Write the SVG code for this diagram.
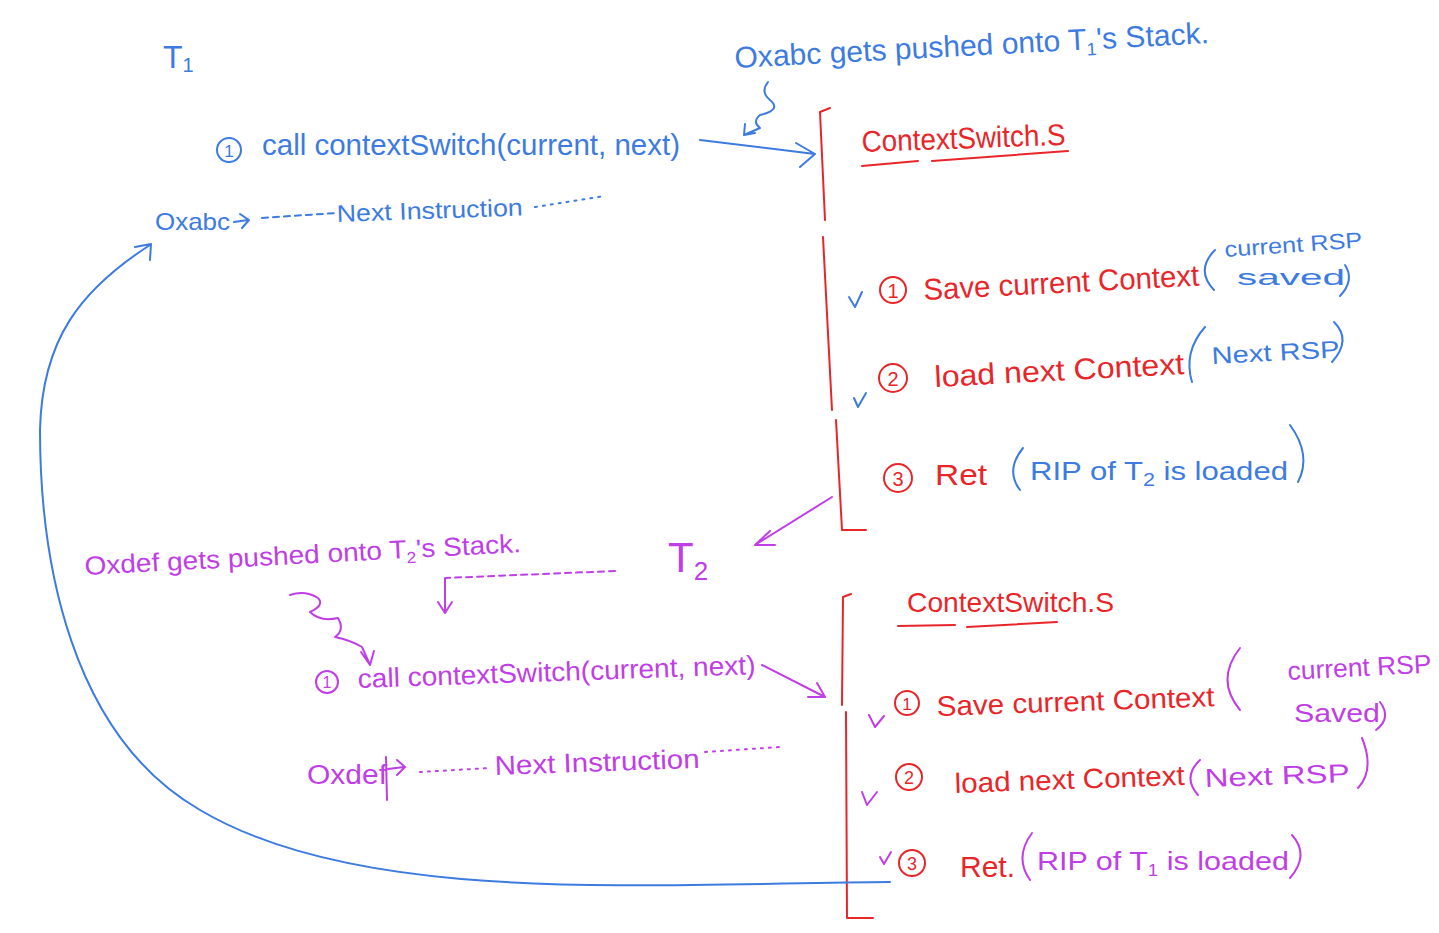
<svg xmlns="http://www.w3.org/2000/svg" width="1439" height="933" viewBox="0 0 1439 933">
<defs>
<style>
.b{fill:#3d7be0}.r{fill:#e8262a}.m{fill:#c03ee6}
text{font-family:"Liberation Sans","DejaVu Sans",sans-serif}
.sb{stroke:#3d7be0;fill:none;stroke-width:2;stroke-linecap:round;stroke-linejoin:round}
.sr{stroke:#e8262a;fill:none;stroke-width:2;stroke-linecap:round;stroke-linejoin:round}
.sm{stroke:#c03ee6;fill:none;stroke-width:2;stroke-linecap:round;stroke-linejoin:round}
.d{stroke-dasharray:6 5}
.dt{stroke-dasharray:2 6}
</style>
</defs>
<rect width="1439" height="933" fill="#ffffff"/>

<g id="t1-label">
<text x="163" y="68" class="b" font-size="32">T<tspan font-size="20" dy="4">1</tspan></text>
</g>

<g id="t1-call">
<circle cx="229" cy="150" r="12" class="sb"/>
<text x="229" y="157" class="b" font-size="17" text-anchor="middle">1</text>
<text x="262" y="155" class="b" font-size="30" textLength="418" lengthAdjust="spacingAndGlyphs">call contextSwitch(current, next)</text>
</g>

<g id="t1-next">
<text x="155" y="230" class="b" font-size="24" textLength="75" lengthAdjust="spacingAndGlyphs">Oxabc</text>
<text x="337" y="222" class="b" font-size="24" textLength="186" lengthAdjust="spacingAndGlyphs" transform="rotate(-2 337 222)">Next Instruction</text>
</g>

<g id="t1-note">
<text x="735" y="68" class="b" font-size="30" textLength="475" lengthAdjust="spacingAndGlyphs" transform="rotate(-3 735 68)">Oxabc gets pushed onto T<tspan font-size="18" dy="6">1</tspan><tspan dy="-6">'s Stack.</tspan></text>
</g>

<g id="cs1">
<text x="862" y="152" class="r" font-size="30" textLength="204" lengthAdjust="spacingAndGlyphs" transform="rotate(-2 862 152)">ContextSwitch.S</text>
<path class="sr" d="M862 166 L918 161 M932 161 L1068 151"/>
<path class="sr" d="M830 108 L820 112 L825 220 M823 237 L832 410 M836 420 L842 530 L866 530"/>
<path class="sb" d="M849 297 L855 307 L862 292"/>
<circle cx="893" cy="290" r="13" class="sr"/>
<text x="893" y="298" class="r" font-size="20" text-anchor="middle">1</text>
<text x="924" y="300" class="r" font-size="30" textLength="276" lengthAdjust="spacingAndGlyphs" transform="rotate(-3 924 300)">Save current Context</text>
<path class="sb" d="M1215 250 Q1195 270 1214 290"/>
<text x="1225" y="257" class="b" font-size="22" textLength="138" lengthAdjust="spacingAndGlyphs" transform="rotate(-4 1225 257)">current RSP</text>
<text x="1237" y="285" class="b" font-size="22" textLength="108" lengthAdjust="spacingAndGlyphs">saved</text>
<path class="sb" d="M1345 265 Q1355 280 1340 296"/>
<path class="sb" d="M854 398 L858 407 L866 393"/>
<circle cx="893" cy="378" r="14" class="sr"/>
<text x="893" y="386" class="r" font-size="20" text-anchor="middle">2</text>
<text x="935" y="387" class="r" font-size="30" textLength="250" lengthAdjust="spacingAndGlyphs" transform="rotate(-3 935 387)">load  next  Context</text>
<path class="sb" d="M1205 327 Q1183 352 1192 382"/>
<text x="1212" y="364" class="b" font-size="24" textLength="128" lengthAdjust="spacingAndGlyphs" transform="rotate(-3 1212 364)">Next RSP</text>
<path class="sb" d="M1334 322 Q1352 340 1332 362"/>
<circle cx="898" cy="478" r="14" class="sr"/>
<text x="898" y="486" class="r" font-size="20" text-anchor="middle">3</text>
<text x="935" y="485" class="r" font-size="30" textLength="52" lengthAdjust="spacingAndGlyphs">Ret</text>
<path class="sb" d="M1023 448 Q1005 470 1020 490"/>
<text x="1030" y="480" class="b" font-size="26" textLength="258" lengthAdjust="spacingAndGlyphs">RIP of  T<tspan font-size="18" dy="6">2</tspan><tspan dy="-6"> is loaded</tspan></text>
<path class="sb" d="M1290 425 Q1312 455 1298 482"/>
</g>

<g id="t2-label">
<text x="668" y="572" class="m" font-size="42">T<tspan font-size="26" dy="8">2</tspan></text>
</g>

<g id="t2-note">
<text x="85" y="575" class="m" font-size="26" textLength="437" lengthAdjust="spacingAndGlyphs" transform="rotate(-3 85 575)">Oxdef gets pushed onto T<tspan font-size="16" dy="5">2</tspan><tspan dy="-5">'s Stack.</tspan></text>
</g>

<g id="t2-call">
<circle cx="327" cy="682" r="11" class="sm"/>
<text x="327" y="688" class="m" font-size="16" text-anchor="middle">1</text>
<text x="358" y="688" class="m" font-size="27" textLength="398" lengthAdjust="spacingAndGlyphs" transform="rotate(-2 358 688)">call contextSwitch(current, next)</text>
</g>

<g id="t2-next">
<text x="307" y="784" class="m" font-size="27" textLength="80" lengthAdjust="spacingAndGlyphs">Oxdef</text>
<text x="495" y="775" class="m" font-size="27" textLength="205" lengthAdjust="spacingAndGlyphs" transform="rotate(-2 495 775)">Next Instruction</text>
</g>

<g id="cs2">
<text x="907" y="612" class="r" font-size="28" textLength="207" lengthAdjust="spacingAndGlyphs">ContextSwitch.S</text>
<path class="sr" d="M898 626 L955 625 M967 627 L1057 622"/>
<path class="sr" d="M851 594 L843 597 L842 705 M846 712 L847 918 L873 918"/>
<path class="sm" d="M869 715 L875 727 L884 716"/>
<circle cx="907" cy="703" r="12" class="sr"/>
<text x="907" y="710" class="r" font-size="17" text-anchor="middle">1</text>
<text x="937" y="716" class="r" font-size="28" textLength="278" lengthAdjust="spacingAndGlyphs" transform="rotate(-2 937 716)">Save   current Context</text>
<path class="sm" d="M1240 648 Q1215 680 1240 710"/>
<text x="1288" y="680" class="m" font-size="26" textLength="144" lengthAdjust="spacingAndGlyphs" transform="rotate(-3 1288 680)">current RSP</text>
<text x="1294" y="722" class="m" font-size="26" textLength="86" lengthAdjust="spacingAndGlyphs">Saved</text>
<path class="sm" d="M1380 702 Q1392 718 1376 730"/>
<path class="sm" d="M862 792 L867 805 L877 792"/>
<circle cx="909" cy="777" r="13" class="sr"/>
<text x="909" y="784" class="r" font-size="18" text-anchor="middle">2</text>
<text x="955" y="793" class="r" font-size="28" textLength="230" lengthAdjust="spacingAndGlyphs" transform="rotate(-2 955 793)">load  next  Context</text>
<path class="sm" d="M1200 760 Q1182 777 1198 795"/>
<text x="1205" y="787" class="m" font-size="26" textLength="145" lengthAdjust="spacingAndGlyphs" transform="rotate(-2 1205 787)">Next RSP</text>
<path class="sm" d="M1362 738 Q1375 770 1358 788"/>
<path class="sm" d="M880 857 L884 864 L891 852"/>
<circle cx="912" cy="863" r="13" class="sr"/>
<text x="912" y="870" class="r" font-size="18" text-anchor="middle">3</text>
<text x="960" y="877" class="r" font-size="30" textLength="55" lengthAdjust="spacingAndGlyphs">Ret.</text>
<path class="sm" d="M1032 833 Q1014 857 1030 880"/>
<text x="1037" y="870" class="m" font-size="26" textLength="252" lengthAdjust="spacingAndGlyphs">RIP of T<tspan font-size="16" dy="6">1</tspan><tspan dy="-6">  is  loaded</tspan></text>
<path class="sm" d="M1292 835 Q1310 855 1290 878"/>
</g>

<g id="connectors">
<path class="sb" d="M700 140 L815 154 M796 143 L815 154 L800 167"/>
<path class="sb" d="M768 82 Q760 92 770 100 Q782 110 760 115 Q752 122 760 128 L744 135 M745 124 L744 135 L755 133"/>
<path class="sb" d="M234 222 L248 220 M240 214 L249 220 L242 228"/>
<path class="sb d" d="M262 218 L336 213"/>
<path class="sb dt" d="M535 207 L605 196"/>
<path class="sm" d="M832 497 L755 545 M770 531 L755 545 L775 545"/>
<path class="sm d" d="M615 571 L445 578"/>
<path class="sm" d="M445 579 L445 612 M438 602 L445 613 L452 602"/>
<path class="sm" d="M290 595 Q305 590 318 598 Q325 605 310 612 Q320 622 338 618 Q345 630 335 637 Q350 640 362 647 L370 665 M361 652 L370 665 L374 651"/>
<path class="sm" d="M762 665 L825 697 M808 697 L825 697 L817 683"/>
<path class="sm" d="M388 769 L404 767 M397 760 L405 767 L397 775"/>
<path class="sm" d="M386 757 L387 800"/>
<path class="sm dt" d="M420 772 L490 768"/>
<path class="sm dt" d="M705 752 L780 747"/>
<path class="sb" d="M890 882 C 640 884, 360 905, 200 810 C 70 735, 40 560, 40 430 C 42 340, 80 290, 150 245 M135 247 L151 244 L150 260"/>
</g>
</svg>
